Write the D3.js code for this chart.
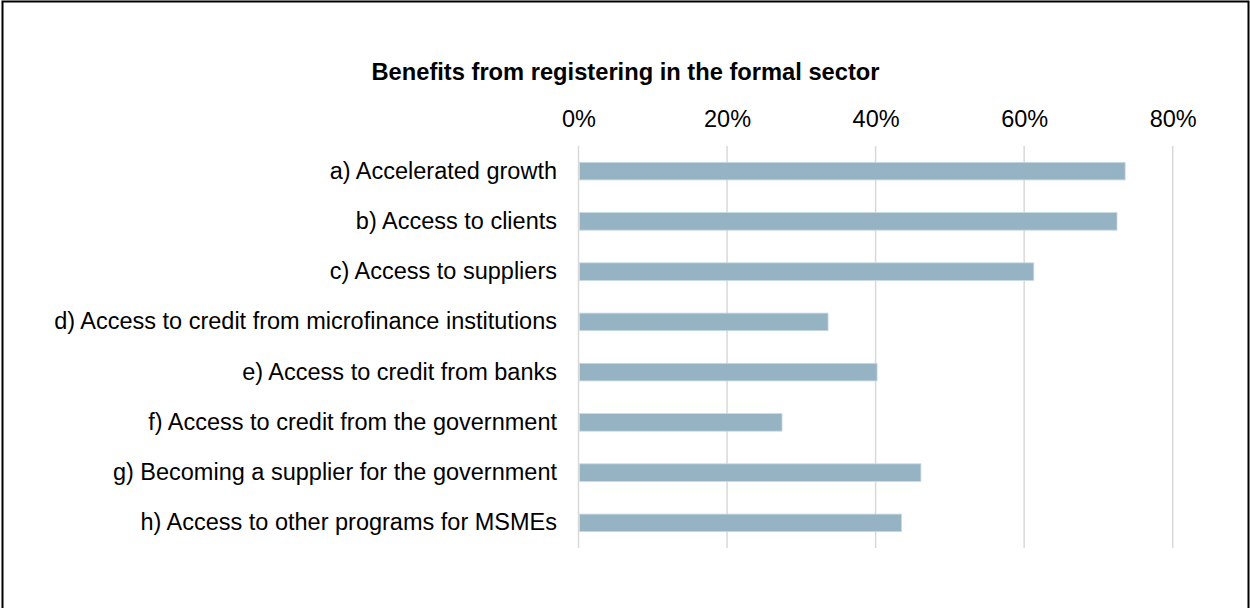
<!DOCTYPE html>
<html>
<head>
<meta charset="utf-8">
<script src="https://cdn.jsdelivr.net/npm/d3@7"></script>
<style>
  html, body { margin: 0; padding: 0; background: #fff; }
  svg { display: block; }
  text { font-family: "Liberation Sans", Arial, sans-serif; fill: #000; }
</style>
</head>
<body>
<svg id="chart" width="1250" height="608"></svg>
<script>
const title = "Benefits from registering in the formal sector";
const categories = [
  "a) Accelerated growth",
  "b) Access to clients",
  "c) Access to suppliers",
  "d) Access to credit from microfinance institutions",
  "e) Access to credit from banks",
  "f) Access to credit from the government",
  "g) Becoming a supplier for the government",
  "h) Access to other programs for MSMEs"
];
const values = [0.736, 0.725, 0.613, 0.336, 0.402, 0.274, 0.461, 0.435];
const tickValues = [0, 0.2, 0.4, 0.6, 0.8];

const svg = d3.select("#chart");
const W = 1250, H = 608;

// frame (no bottom edge visible)
svg.append("path")
  .attr("d", `M2.5,${H} L2.5,1.5 L1248.5,1.5 L1248.5,${H}`)
  .attr("fill", "none").attr("stroke", "#000").attr("stroke-width", 2);

const x = d3.scaleLinear().domain([0, 0.8]).range([578.5, 1172.7]);
const y = d3.scaleBand().domain(categories).range([146, 548]).paddingInner(0.65).paddingOuter(0.325);

// gridlines
svg.append("g").selectAll("line").data(tickValues).join("line")
  .attr("x1", d => x(d)).attr("x2", d => x(d))
  .attr("y1", 146).attr("y2", 548)
  .attr("stroke", "#d9d9d9").attr("stroke-width", 1.5);

// top axis labels
const xAxis = d3.axisTop(x).tickValues(tickValues).tickFormat(d3.format(".0%")).tickSize(0).tickPadding(0);
const gx = svg.append("g").attr("transform", "translate(0,126.5)").call(xAxis);
gx.select(".domain").remove();
gx.selectAll("text").attr("font-size", 23.5).attr("font-family", "Liberation Sans, Arial, sans-serif").attr("fill", "#000").attr("dy", 0);

// bars
svg.append("g").selectAll("rect").data(values).join("rect")
  .attr("x", x(0) + 1)
  .attr("y", (d, i) => y(categories[i]))
  .attr("width", d => x(d) - x(0) - 1)
  .attr("height", y.bandwidth())
  .attr("fill", "#95b3c3")
  .attr("stroke", "#c9dbe3").attr("stroke-width", 0.8);

// category labels
const yAxis = d3.axisLeft(y).tickSize(0).tickPadding(0);
const gy = svg.append("g").attr("transform", "translate(557,0)").call(yAxis);
gy.select(".domain").remove();
gy.selectAll("text").attr("font-size", 23.5).attr("font-family", "Liberation Sans, Arial, sans-serif").attr("fill", "#000");

// title
svg.append("text").attr("x", 625.5).attr("y", 80).attr("text-anchor", "middle")
  .attr("font-size", 23.7).attr("font-weight", "bold").text(title);
</script>
</body>
</html>
